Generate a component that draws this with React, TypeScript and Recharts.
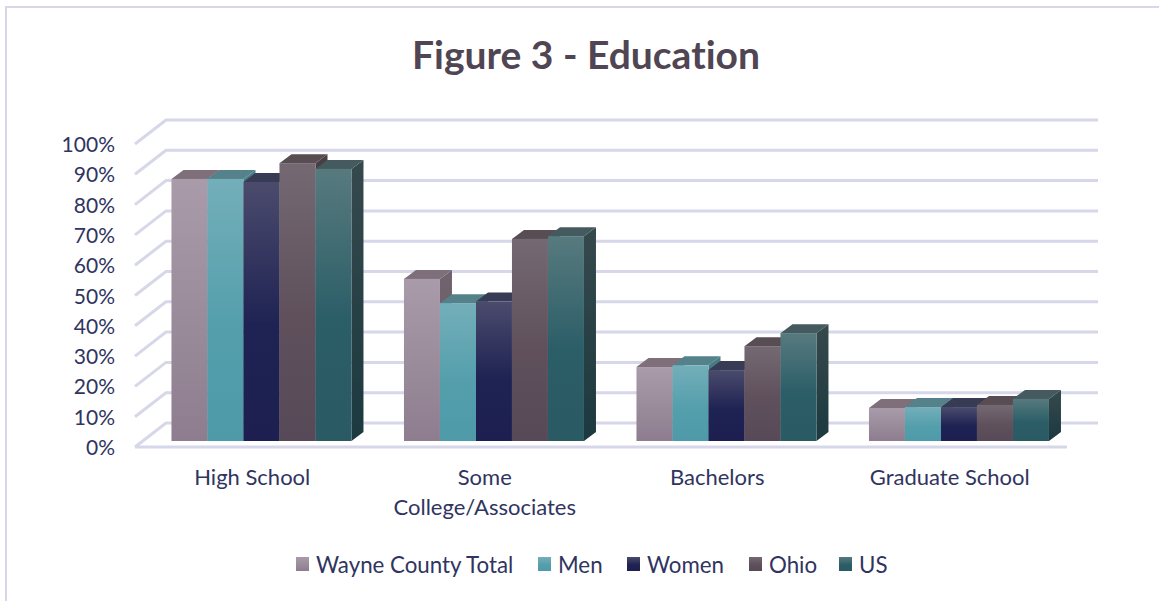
import React from 'react';
import { BarChart, Bar, XAxis, YAxis, CartesianGrid, Legend } from 'recharts';

const categories = ['High School', 'Some College/Associates', 'Bachelors', 'Graduate School'];
const wayneTotal = [86.5, 53.5, 24.4, 10.9];
const men = [86.5, 45.5, 25, 11.2];
const women = [85.5, 46, 23.4, 11.2];
const ohio = [91.7, 66.7, 31.3, 11.9];
const us = [89.8, 67.6, 35.6, 13.9];
const yTicks = [0, 10, 20, 30, 40, 50, 60, 70, 80, 90, 100];

const SERIES = [
  { key: 'wayne', name: 'Wayne County Total', values: wayneTotal, light: '#a99ba9', mid: '#9a8b9a', dark: '#8d7d8f', top: '#7e6f7b', side: '#72646f', sideDark: '#64565f' },
  { key: 'men', name: 'Men', values: men, light: '#73afba', mid: '#559fac', dark: '#4e9aa9', top: '#55828a', side: '#477c85', sideDark: '#3a6d76' },
  { key: 'women', name: 'Women', values: women, light: '#4b4b6d', mid: '#1f2353', dark: '#1c1f4f', top: '#373b53', side: '#292c45', sideDark: '#16183a' },
  { key: 'ohio', name: 'Ohio', values: ohio, light: '#746973', mid: '#5f505c', dark: '#574957', top: '#594d54', side: '#4a3f47', sideDark: '#3e333c' },
  { key: 'us', name: 'US', values: us, light: '#577a7e', mid: '#2c5e68', dark: '#2a5a64', top: '#445a5e', side: '#36494d', sideDark: '#1b393f' }
];

const data = categories.map((name, i) => {
  const row: Record<string, string | number> = { name };
  SERIES.forEach(s => { row[s.key] = s.values[i]; });
  return row;
});

const TEXT = '#2f3460';
const LINE = '#d6d8e9';
const DX = 12;
const DY = 9;

const Bar3D = (props: any, s: typeof SERIES[number]) => {
  const { x, y, width, height } = props;
  const r = x + width;
  return (
    <g>
      <path d={`M${r} ${y} L${r + DX} ${y - DY} L${r + DX} ${y + height - DY} L${r} ${y + height} Z`} fill={`url(#side-${s.key})`} />
      <path d={`M${x} ${y} L${x + DX} ${y - DY} L${r + DX} ${y - DY} L${r} ${y} Z`} fill={s.top} />
      <rect x={x} y={y} width={width} height={height} fill={`url(#front-${s.key})`} />
    </g>
  );
};

const gridLine = (p: any) => {
  const { x1, x2, y1 } = p;
  const isFloor = Math.abs(y1 - 441) < 1;
  return (
    <g key={`g-${y1}`} fill="none" stroke={LINE} strokeWidth={3}>
      <path d={`M${x1} ${y1 + 6} L${x1 + 31} ${y1 - 18} L${x2 + 33} ${y1 - 18}`} />
      {isFloor && <path d={`M${x1} ${y1 + 6} L${x2 + 2} ${y1 + 6}`} />}
    </g>
  );
};

const YTick = ({ x, y, payload }: any) => (
  <text x={x - 14} y={y + 14} textAnchor="end" fontSize={21} fill={TEXT}>{payload.value}%</text>
);

const XTick = ({ x, y, payload }: any) => {
  const lines = payload.value === 'Some College/Associates' ? ['Some', 'College/Associates'] : [payload.value];
  return (
    <text x={x + 1} y={y + 38} textAnchor="middle" fontSize={22} fill={TEXT}>
      {lines.map((l: string, i: number) => (
        <tspan key={l} x={x + 1} dy={i === 0 ? 0 : 30}>{l}</tspan>
      ))}
    </text>
  );
};

const LegendContent = ({ payload }: any) => {
  const lefts = [296, 538, 627, 749, 839];
  return (
    <div style={{ position: 'relative', height: 40 }}>
      {(payload || []).map((p: any, i: number) => (
        <div key={p.value} style={{ position: 'absolute', left: lefts[i], top: 0, display: 'flex', alignItems: 'center', height: 32, whiteSpace: 'nowrap', fontSize: 22.3, color: TEXT }}>
          <svg width={13} height={14} style={{ marginRight: 7 }}>
            <rect width={13} height={14} fill={p.color} />
          </svg>
          {p.value}
        </div>
      ))}
    </div>
  );
};

export default function App() {
  return (
    <div style={{ position: 'absolute', left: 0, top: 0, width: 1159, height: 601, background: '#fff', overflow: 'hidden', fontFamily: 'Lato, sans-serif', fontVariantLigatures: 'none' }}>
      <div style={{ position: 'absolute', left: 5, top: 6, right: 0, bottom: 0, borderLeft: `2px solid ${LINE}`, borderTop: `2px solid ${LINE}` }} />
      <div style={{ position: 'absolute', left: 0, width: 1172, top: 31, textAlign: 'center', fontSize: 39, fontWeight: 700, color: '#4f4553' }}>Figure 3 - Education</div>
      <BarChart
        width={1159}
        height={601}
        data={data}
        margin={{ top: 138, right: 94, bottom: 80, left: 75 }}
        barCategoryGap="11.6%"
        barGap={0}
        style={{ position: 'absolute', left: 0, top: 0 }}
      >
        <defs>
          {SERIES.map(s => (
            <linearGradient key={s.key} id={`front-${s.key}`} x1="0" y1="0" x2="0" y2="1">
              <stop offset="0" stopColor={s.light} />
              <stop offset="0.55" stopColor={s.mid} />
              <stop offset="1" stopColor={s.dark} />
            </linearGradient>
          ))}
          {SERIES.map(s => (
            <linearGradient key={s.key} id={`side-${s.key}`} x1="0" y1="0" x2="0" y2="1">
              <stop offset="0" stopColor={s.side} />
              <stop offset="1" stopColor={s.sideDark} />
            </linearGradient>
          ))}
        </defs>
        <CartesianGrid vertical={false} horizontal={gridLine} />
        <XAxis dataKey="name" axisLine={false} tickLine={false} interval={0} height={40} tick={XTick} tickMargin={0} />
        <YAxis domain={[0, 100]} ticks={yTicks} width={60} axisLine={false} tickLine={false} tick={YTick} tickMargin={0} />
        <Legend
          verticalAlign="bottom"
          height={40}
          content={LegendContent}
          itemSorter={null}
          wrapperStyle={{ left: 0, width: 1159, top: 548 }}
        />
        {SERIES.map(s => (
          <Bar
            key={s.key}
            dataKey={s.key}
            name={s.name}
            fill={`url(#front-${s.key})`}
            isAnimationActive={false}
            shape={(p: any) => Bar3D({ ...p, x: p.x + 9.5 }, s)}
          />
        ))}
      </BarChart>
    </div>
  );
}
